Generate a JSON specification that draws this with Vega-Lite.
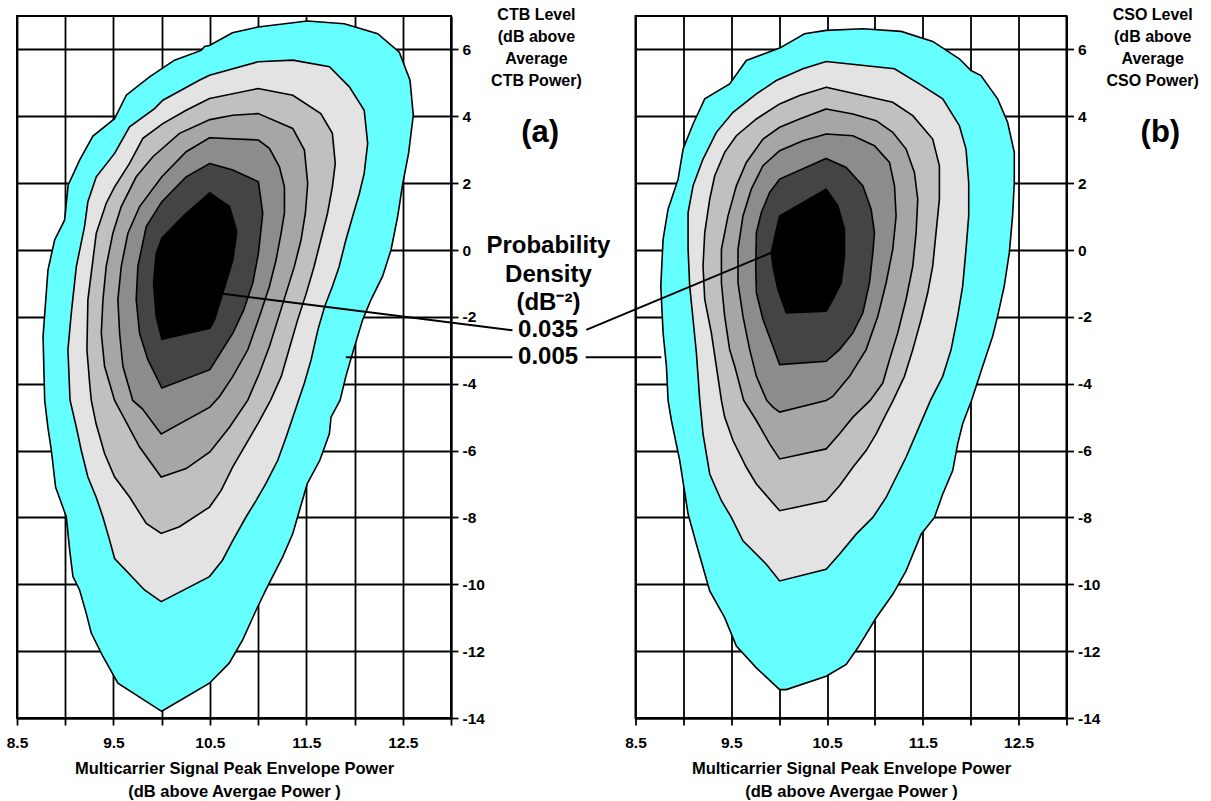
{
 "$schema": "https://vega.github.io/schema/vega-lite/v6.json",
 "padding": {"left": 5, "top": 6, "right": 5, "bottom": 3},
 "background": "white",
 "datasets": {
  "ctb": [
   {"density":0.005,"k":1,"pep":10.0,"lvl":-13.8},{"density":0.005,"k":2,"pep":9.546,"lvl":-12.96},{"density":0.005,"k":3,"pep":9.391,"lvl":-12.16},{"density":0.005,"k":4,"pep":9.27,"lvl":-11.46},{"density":0.005,"k":5,"pep":9.218,"lvl":-10.87},{"density":0.005,"k":6,"pep":9.149,"lvl":-10.17},{"density":0.005,"k":7,"pep":9.08,"lvl":-9.77},{"density":0.005,"k":8,"pep":9.046,"lvl":-8.98},{"density":0.005,"k":9,"pep":9.011,"lvl":-7.98},{"density":0.005,"k":10,"pep":8.9,"lvl":-7.09},{"density":0.005,"k":11,"pep":8.856,"lvl":-5.99},{"density":0.005,"k":12,"pep":8.82,"lvl":-5.3},{"density":0.005,"k":13,"pep":8.787,"lvl":-4.5},{"density":0.005,"k":14,"pep":8.77,"lvl":-2.59},{"density":0.005,"k":15,"pep":8.821,"lvl":-0.6},{"density":0.005,"k":16,"pep":8.89,"lvl":0.3},{"density":0.005,"k":17,"pep":8.994,"lvl":0.9},{"density":0.005,"k":18,"pep":9.03,"lvl":1.94},{"density":0.005,"k":19,"pep":9.149,"lvl":2.69},{"density":0.005,"k":20,"pep":9.287,"lvl":3.41},{"density":0.005,"k":21,"pep":9.512,"lvl":3.93},{"density":0.005,"k":22,"pep":9.633,"lvl":4.63},{"density":0.005,"k":23,"pep":9.874,"lvl":5.18},{"density":0.005,"k":24,"pep":10.133,"lvl":5.68},{"density":0.005,"k":25,"pep":10.41,"lvl":5.97},{"density":0.005,"k":26,"pep":10.444,"lvl":6.09},{"density":0.005,"k":27,"pep":10.496,"lvl":6.12},{"density":0.005,"k":28,"pep":10.734,"lvl":6.5},{"density":0.005,"k":29,"pep":11.0,"lvl":6.67},{"density":0.005,"k":30,"pep":11.51,"lvl":6.85},{"density":0.005,"k":31,"pep":11.894,"lvl":6.77},{"density":0.005,"k":32,"pep":12.24,"lvl":6.47},{"density":0.005,"k":33,"pep":12.464,"lvl":5.92},{"density":0.005,"k":34,"pep":12.575,"lvl":5.08},{"density":0.005,"k":35,"pep":12.609,"lvl":4.03},{"density":0.005,"k":36,"pep":12.56,"lvl":2.89},{"density":0.005,"k":37,"pep":12.5,"lvl":1.99},{"density":0.005,"k":38,"pep":12.447,"lvl":1.0},{"density":0.005,"k":39,"pep":12.378,"lvl":0.0},{"density":0.005,"k":40,"pep":12.29,"lvl":-0.79},{"density":0.005,"k":41,"pep":12.17,"lvl":-1.49},{"density":0.005,"k":42,"pep":12.084,"lvl":-2.09},{"density":0.005,"k":43,"pep":11.99,"lvl":-2.98},{"density":0.005,"k":44,"pep":11.91,"lvl":-3.78},{"density":0.005,"k":45,"pep":11.85,"lvl":-4.49},{"density":0.005,"k":46,"pep":11.756,"lvl":-5.0},{"density":0.005,"k":47,"pep":11.739,"lvl":-5.5},{"density":0.005,"k":48,"pep":11.64,"lvl":-6.29},{"density":0.005,"k":49,"pep":11.51,"lvl":-6.99},{"density":0.005,"k":50,"pep":11.43,"lvl":-7.78},{"density":0.005,"k":51,"pep":11.36,"lvl":-8.48},{"density":0.005,"k":52,"pep":11.255,"lvl":-9.18},{"density":0.005,"k":53,"pep":11.08,"lvl":-10.17},{"density":0.005,"k":54,"pep":10.98,"lvl":-10.77},{"density":0.005,"k":55,"pep":10.84,"lvl":-11.66},{"density":0.005,"k":56,"pep":10.7,"lvl":-12.36},{"density":0.005,"k":57,"pep":10.496,"lvl":-12.96},

   {"density":0.01,"k":1,"pep":10.39,"lvl":5.08},{"density":0.01,"k":2,"pep":10.496,"lvl":5.23},{"density":0.01,"k":3,"pep":11.0,"lvl":5.63},{"density":0.01,"k":4,"pep":11.36,"lvl":5.68},{"density":0.01,"k":5,"pep":11.74,"lvl":5.48},{"density":0.01,"k":6,"pep":11.946,"lvl":4.88},{"density":0.01,"k":7,"pep":12.1,"lvl":4.18},{"density":0.01,"k":8,"pep":12.136,"lvl":3.19},{"density":0.01,"k":9,"pep":12.1,"lvl":2.29},{"density":0.01,"k":10,"pep":12.05,"lvl":1.69},{"density":0.01,"k":11,"pep":11.98,"lvl":1.0},{"density":0.01,"k":12,"pep":11.91,"lvl":0.3},{"density":0.01,"k":13,"pep":11.84,"lvl":-0.5},{"density":0.01,"k":14,"pep":11.77,"lvl":-1.09},{"density":0.01,"k":15,"pep":11.69,"lvl":-1.69},{"density":0.01,"k":16,"pep":11.62,"lvl":-2.39},{"density":0.01,"k":17,"pep":11.55,"lvl":-3.28},{"density":0.01,"k":18,"pep":11.48,"lvl":-3.98},{"density":0.01,"k":19,"pep":11.42,"lvl":-4.49},{"density":0.01,"k":20,"pep":11.36,"lvl":-5.0},{"density":0.01,"k":21,"pep":11.29,"lvl":-5.6},{"density":0.01,"k":22,"pep":11.204,"lvl":-6.29},{"density":0.01,"k":23,"pep":11.08,"lvl":-6.99},{"density":0.01,"k":24,"pep":10.98,"lvl":-7.49},{"density":0.01,"k":25,"pep":10.876,"lvl":-7.98},{"density":0.01,"k":26,"pep":10.74,"lvl":-8.68},{"density":0.01,"k":27,"pep":10.63,"lvl":-9.28},{"density":0.01,"k":28,"pep":10.496,"lvl":-9.77},{"density":0.01,"k":29,"pep":9.995,"lvl":-10.52},{"density":0.01,"k":30,"pep":9.822,"lvl":-10.17},{"density":0.01,"k":31,"pep":9.512,"lvl":-9.23},{"density":0.01,"k":32,"pep":9.46,"lvl":-8.68},{"density":0.01,"k":33,"pep":9.39,"lvl":-7.98},{"density":0.01,"k":34,"pep":9.32,"lvl":-7.39},{"density":0.01,"k":35,"pep":9.235,"lvl":-6.79},{"density":0.01,"k":36,"pep":9.166,"lvl":-5.99},{"density":0.01,"k":37,"pep":9.115,"lvl":-5.3},{"density":0.01,"k":38,"pep":9.05,"lvl":-4.49},{"density":0.01,"k":39,"pep":9.028,"lvl":-2.985},{"density":0.01,"k":40,"pep":9.063,"lvl":-1.89},{"density":0.01,"k":41,"pep":9.115,"lvl":-0.5},{"density":0.01,"k":42,"pep":9.2,"lvl":0.7},{"density":0.01,"k":43,"pep":9.235,"lvl":1.445},{"density":0.01,"k":44,"pep":9.322,"lvl":2.19},{"density":0.01,"k":45,"pep":9.512,"lvl":2.89},{"density":0.01,"k":46,"pep":9.667,"lvl":3.685},{"density":0.01,"k":47,"pep":9.926,"lvl":4.23},{"density":0.01,"k":48,"pep":10.012,"lvl":4.48},

   {"density":0.015,"k":1,"pep":10.496,"lvl":4.53},{"density":0.015,"k":2,"pep":11.0,"lvl":4.83},{"density":0.015,"k":3,"pep":11.36,"lvl":4.63},{"density":0.015,"k":4,"pep":11.65,"lvl":4.08},{"density":0.015,"k":5,"pep":11.77,"lvl":3.49},{"density":0.015,"k":6,"pep":11.8,"lvl":2.59},{"density":0.015,"k":7,"pep":11.77,"lvl":1.89},{"density":0.015,"k":8,"pep":11.72,"lvl":1.1},{"density":0.015,"k":9,"pep":11.65,"lvl":0.3},{"density":0.015,"k":10,"pep":11.58,"lvl":-0.5},{"density":0.015,"k":11,"pep":11.5,"lvl":-1.29},{"density":0.015,"k":12,"pep":11.41,"lvl":-2.09},{"density":0.015,"k":13,"pep":11.32,"lvl":-2.985},{"density":0.015,"k":14,"pep":11.24,"lvl":-3.78},{"density":0.015,"k":15,"pep":11.13,"lvl":-4.49},{"density":0.015,"k":16,"pep":10.997,"lvl":-5.2},{"density":0.015,"k":17,"pep":10.876,"lvl":-5.8},{"density":0.015,"k":18,"pep":10.737,"lvl":-6.49},{"density":0.015,"k":19,"pep":10.617,"lvl":-7.19},{"density":0.015,"k":20,"pep":10.496,"lvl":-7.69},{"density":0.015,"k":21,"pep":10.185,"lvl":-8.28},{"density":0.015,"k":22,"pep":9.995,"lvl":-8.48},{"density":0.015,"k":23,"pep":9.84,"lvl":-8.18},{"density":0.015,"k":24,"pep":9.667,"lvl":-7.39},{"density":0.015,"k":25,"pep":9.512,"lvl":-6.79},{"density":0.015,"k":26,"pep":9.408,"lvl":-6.09},{"density":0.015,"k":27,"pep":9.32,"lvl":-5.2},{"density":0.015,"k":28,"pep":9.27,"lvl":-4.49},{"density":0.015,"k":29,"pep":9.253,"lvl":-3.98},{"density":0.015,"k":30,"pep":9.225,"lvl":-2.985},{"density":0.015,"k":31,"pep":9.235,"lvl":-1.49},{"density":0.015,"k":32,"pep":9.287,"lvl":-0.3},{"density":0.015,"k":33,"pep":9.322,"lvl":0.5},{"density":0.015,"k":34,"pep":9.425,"lvl":1.4},{"density":0.015,"k":35,"pep":9.512,"lvl":1.89},{"density":0.015,"k":36,"pep":9.667,"lvl":2.59},{"density":0.015,"k":37,"pep":9.805,"lvl":3.34},{"density":0.015,"k":38,"pep":10.012,"lvl":3.78},{"density":0.015,"k":39,"pep":10.254,"lvl":4.18},

   {"density":0.02,"k":1,"pep":11.003,"lvl":4.08},{"density":0.02,"k":2,"pep":11.359,"lvl":3.635},{"density":0.02,"k":3,"pep":11.48,"lvl":2.99},{"density":0.02,"k":4,"pep":11.514,"lvl":1.99},{"density":0.02,"k":5,"pep":11.49,"lvl":1.1},{"density":0.02,"k":6,"pep":11.445,"lvl":0.3},{"density":0.02,"k":7,"pep":11.376,"lvl":-0.49},{"density":0.02,"k":8,"pep":11.29,"lvl":-1.29},{"density":0.02,"k":9,"pep":11.204,"lvl":-2.09},{"density":0.02,"k":10,"pep":11.117,"lvl":-2.885},{"density":0.02,"k":11,"pep":11.014,"lvl":-3.68},{"density":0.02,"k":12,"pep":10.893,"lvl":-4.49},{"density":0.02,"k":13,"pep":10.703,"lvl":-5.3},{"density":0.02,"k":14,"pep":10.5,"lvl":-6.04},{"density":0.02,"k":15,"pep":10.254,"lvl":-6.54},{"density":0.02,"k":16,"pep":9.995,"lvl":-6.79},{"density":0.02,"k":17,"pep":9.771,"lvl":-5.895},{"density":0.02,"k":18,"pep":9.512,"lvl":-4.5},{"density":0.02,"k":19,"pep":9.408,"lvl":-3.48},{"density":0.02,"k":20,"pep":9.374,"lvl":-2.49},{"density":0.02,"k":21,"pep":9.391,"lvl":-1.49},{"density":0.02,"k":22,"pep":9.425,"lvl":-0.49},{"density":0.02,"k":23,"pep":9.494,"lvl":0.5},{"density":0.02,"k":24,"pep":9.581,"lvl":1.3},{"density":0.02,"k":25,"pep":9.736,"lvl":2.19},{"density":0.02,"k":26,"pep":9.909,"lvl":2.79},{"density":0.02,"k":27,"pep":10.185,"lvl":3.49},{"density":0.02,"k":28,"pep":10.5,"lvl":3.9},{"density":0.02,"k":29,"pep":10.738,"lvl":4.03},

   {"density":0.025,"k":1,"pep":10.5,"lvl":3.36},{"density":0.025,"k":2,"pep":11.003,"lvl":3.29},{"density":0.025,"k":3,"pep":11.117,"lvl":3.04},{"density":0.025,"k":4,"pep":11.221,"lvl":2.49},{"density":0.025,"k":5,"pep":11.273,"lvl":1.89},{"density":0.025,"k":6,"pep":11.273,"lvl":1.1},{"density":0.025,"k":7,"pep":11.238,"lvl":0.5},{"density":0.025,"k":8,"pep":11.186,"lvl":-0.3},{"density":0.025,"k":9,"pep":11.117,"lvl":-1.09},{"density":0.025,"k":10,"pep":11.014,"lvl":-1.99},{"density":0.025,"k":11,"pep":10.893,"lvl":-2.985},{"density":0.025,"k":12,"pep":10.738,"lvl":-3.78},{"density":0.025,"k":13,"pep":10.6,"lvl":-4.38},{"density":0.025,"k":14,"pep":10.5,"lvl":-4.7},{"density":0.025,"k":15,"pep":9.995,"lvl":-5.5},{"density":0.025,"k":16,"pep":9.8,"lvl":-4.75},{"density":0.025,"k":17,"pep":9.7,"lvl":-4.5},{"density":0.025,"k":18,"pep":9.598,"lvl":-3.48},{"density":0.025,"k":19,"pep":9.564,"lvl":-2.49},{"density":0.025,"k":20,"pep":9.546,"lvl":-1.49},{"density":0.025,"k":21,"pep":9.581,"lvl":-0.49},{"density":0.025,"k":22,"pep":9.65,"lvl":0.5},{"density":0.025,"k":23,"pep":9.771,"lvl":1.3},{"density":0.025,"k":24,"pep":10.002,"lvl":2.19},{"density":0.025,"k":25,"pep":10.254,"lvl":2.94},

   {"density":0.03,"k":1,"pep":10.5,"lvl":2.59},{"density":0.03,"k":2,"pep":10.738,"lvl":2.39},{"density":0.03,"k":3,"pep":11.003,"lvl":2.04},{"density":0.03,"k":4,"pep":11.048,"lvl":1.1},{"density":0.03,"k":5,"pep":11.003,"lvl":-0.1},{"density":0.03,"k":6,"pep":10.945,"lvl":-0.99},{"density":0.03,"k":7,"pep":10.85,"lvl":-1.8},{"density":0.03,"k":8,"pep":10.738,"lvl":-2.49},{"density":0.03,"k":9,"pep":10.5,"lvl":-3.58},{"density":0.03,"k":10,"pep":10.002,"lvl":-4.13},{"density":0.03,"k":11,"pep":9.857,"lvl":-3.28},{"density":0.03,"k":12,"pep":9.771,"lvl":-2.49},{"density":0.03,"k":13,"pep":9.736,"lvl":-1.49},{"density":0.03,"k":14,"pep":9.753,"lvl":-0.49},{"density":0.03,"k":15,"pep":9.84,"lvl":0.7},{"density":0.03,"k":16,"pep":10.002,"lvl":1.445},{"density":0.03,"k":17,"pep":10.254,"lvl":2.19},

   {"density":0.035,"k":1,"pep":10.5,"lvl":1.71},{"density":0.035,"k":2,"pep":10.703,"lvl":1.3},{"density":0.035,"k":3,"pep":10.779,"lvl":0.55},{"density":0.035,"k":4,"pep":10.738,"lvl":-0.3},{"density":0.035,"k":5,"pep":10.634,"lvl":-1.29},{"density":0.035,"k":6,"pep":10.548,"lvl":-2.09},{"density":0.035,"k":7,"pep":10.5,"lvl":-2.34},{"density":0.035,"k":8,"pep":10.002,"lvl":-2.67},{"density":0.035,"k":9,"pep":9.943,"lvl":-1.99},{"density":0.035,"k":10,"pep":9.916,"lvl":-0.99},{"density":0.035,"k":11,"pep":9.943,"lvl":-0.1},{"density":0.035,"k":12,"pep":10.002,"lvl":0.35},{"density":0.035,"k":13,"pep":10.237,"lvl":1.05}
  ],
  "cso": [
   {"density":0.005,"k":1,"pep":10.005,"lvl":6.04},{"density":0.005,"k":2,"pep":10.265,"lvl":6.47},{"density":0.005,"k":3,"pep":10.491,"lvl":6.57},{"density":0.005,"k":4,"pep":10.874,"lvl":6.62},{"density":0.005,"k":5,"pep":11.273,"lvl":6.54},{"density":0.005,"k":6,"pep":11.603,"lvl":6.24},{"density":0.005,"k":7,"pep":11.881,"lvl":5.72},{"density":0.005,"k":8,"pep":12.003,"lvl":5.37},{"density":0.005,"k":9,"pep":12.107,"lvl":5.22},{"density":0.005,"k":10,"pep":12.281,"lvl":4.52},{"density":0.005,"k":11,"pep":12.385,"lvl":3.82},{"density":0.005,"k":12,"pep":12.455,"lvl":2.92},{"density":0.005,"k":13,"pep":12.455,"lvl":2.02},{"density":0.005,"k":14,"pep":12.437,"lvl":1.02},{"density":0.005,"k":15,"pep":12.403,"lvl":-0.08},{"density":0.005,"k":16,"pep":12.35,"lvl":-1.08},{"density":0.005,"k":17,"pep":12.281,"lvl":-1.98},{"density":0.005,"k":18,"pep":12.229,"lvl":-2.58},{"density":0.005,"k":19,"pep":12.125,"lvl":-3.48},{"density":0.005,"k":20,"pep":12.01,"lvl":-4.49},{"density":0.005,"k":21,"pep":11.916,"lvl":-5.2},{"density":0.005,"k":22,"pep":11.864,"lvl":-5.8},{"density":0.005,"k":23,"pep":11.812,"lvl":-6.6},{"density":0.005,"k":24,"pep":11.708,"lvl":-7.3},{"density":0.005,"k":25,"pep":11.621,"lvl":-8.0},{"density":0.005,"k":26,"pep":11.482,"lvl":-8.5},{"density":0.005,"k":27,"pep":11.325,"lvl":-9.6},{"density":0.005,"k":28,"pep":11.186,"lvl":-10.3},{"density":0.005,"k":29,"pep":11.013,"lvl":-11.0},{"density":0.005,"k":30,"pep":10.821,"lvl":-11.9},{"density":0.005,"k":31,"pep":10.7,"lvl":-12.4},{"density":0.005,"k":32,"pep":10.491,"lvl":-12.75},{"density":0.005,"k":33,"pep":10.074,"lvl":-13.15},{"density":0.005,"k":34,"pep":10.005,"lvl":-13.15},{"density":0.005,"k":35,"pep":9.762,"lvl":-12.5},{"density":0.005,"k":36,"pep":9.553,"lvl":-11.85},{"density":0.005,"k":37,"pep":9.431,"lvl":-11.0},{"density":0.005,"k":38,"pep":9.275,"lvl":-10.2},{"density":0.005,"k":39,"pep":9.136,"lvl":-8.8},{"density":0.005,"k":40,"pep":9.049,"lvl":-7.9},{"density":0.005,"k":41,"pep":8.962,"lvl":-6.3},{"density":0.005,"k":42,"pep":8.875,"lvl":-5.1},{"density":0.005,"k":43,"pep":8.84,"lvl":-4.5},{"density":0.005,"k":44,"pep":8.823,"lvl":-3.48},{"density":0.005,"k":45,"pep":8.788,"lvl":-2.48},{"density":0.005,"k":46,"pep":8.764,"lvl":-1.08},{"density":0.005,"k":47,"pep":8.788,"lvl":0.32},{"density":0.005,"k":48,"pep":8.84,"lvl":1.22},{"density":0.005,"k":49,"pep":8.945,"lvl":2.12},{"density":0.005,"k":50,"pep":8.997,"lvl":3.02},{"density":0.005,"k":51,"pep":9.101,"lvl":3.77},{"density":0.005,"k":52,"pep":9.223,"lvl":4.52},{"density":0.005,"k":53,"pep":9.483,"lvl":4.97},{"density":0.005,"k":54,"pep":9.657,"lvl":5.67},

   {"density":0.01,"k":1,"pep":10.491,"lvl":5.64},{"density":0.01,"k":2,"pep":11.204,"lvl":5.42},{"density":0.01,"k":3,"pep":11.464,"lvl":4.97},{"density":0.01,"k":4,"pep":11.708,"lvl":4.52},{"density":0.01,"k":5,"pep":11.881,"lvl":3.72},{"density":0.01,"k":6,"pep":11.951,"lvl":3.02},{"density":0.01,"k":7,"pep":11.979,"lvl":2.02},{"density":0.01,"k":8,"pep":11.979,"lvl":1.02},{"density":0.01,"k":9,"pep":11.951,"lvl":0.02},{"density":0.01,"k":10,"pep":11.916,"lvl":-1.08},{"density":0.01,"k":11,"pep":11.864,"lvl":-1.98},{"density":0.01,"k":12,"pep":11.795,"lvl":-2.98},{"density":0.01,"k":13,"pep":11.708,"lvl":-3.78},{"density":0.01,"k":14,"pep":11.58,"lvl":-4.5},{"density":0.01,"k":15,"pep":11.43,"lvl":-5.5},{"density":0.01,"k":16,"pep":11.325,"lvl":-6.2},{"density":0.01,"k":17,"pep":11.186,"lvl":-7.0},{"density":0.01,"k":18,"pep":11.117,"lvl":-7.4},{"density":0.01,"k":19,"pep":10.978,"lvl":-8.0},{"density":0.01,"k":20,"pep":10.804,"lvl":-8.5},{"density":0.01,"k":21,"pep":10.63,"lvl":-9.1},{"density":0.01,"k":22,"pep":10.491,"lvl":-9.55},{"density":0.01,"k":23,"pep":10.005,"lvl":-9.9},{"density":0.01,"k":24,"pep":9.866,"lvl":-9.4},{"density":0.01,"k":25,"pep":9.622,"lvl":-8.7},{"density":0.01,"k":26,"pep":9.501,"lvl":-8.0},{"density":0.01,"k":27,"pep":9.397,"lvl":-7.5},{"density":0.01,"k":28,"pep":9.275,"lvl":-6.7},{"density":0.01,"k":29,"pep":9.205,"lvl":-5.5},{"density":0.01,"k":30,"pep":9.171,"lvl":-4.5},{"density":0.01,"k":31,"pep":9.136,"lvl":-3.08},{"density":0.01,"k":32,"pep":9.101,"lvl":-2.08},{"density":0.01,"k":33,"pep":9.066,"lvl":-1.08},{"density":0.01,"k":34,"pep":9.049,"lvl":0.02},{"density":0.01,"k":35,"pep":9.049,"lvl":1.12},{"density":0.01,"k":36,"pep":9.101,"lvl":1.92},{"density":0.01,"k":37,"pep":9.205,"lvl":2.72},{"density":0.01,"k":38,"pep":9.344,"lvl":3.52},{"density":0.01,"k":39,"pep":9.518,"lvl":4.12},{"density":0.01,"k":40,"pep":9.762,"lvl":4.67},{"density":0.01,"k":41,"pep":9.97,"lvl":5.07},{"density":0.01,"k":42,"pep":10.248,"lvl":5.42},

   {"density":0.015,"k":1,"pep":10.491,"lvl":4.87},{"density":0.015,"k":2,"pep":11.186,"lvl":4.42},{"density":0.015,"k":3,"pep":11.395,"lvl":4.02},{"density":0.015,"k":4,"pep":11.603,"lvl":3.32},{"density":0.015,"k":5,"pep":11.673,"lvl":2.52},{"density":0.015,"k":6,"pep":11.673,"lvl":1.52},{"density":0.015,"k":7,"pep":11.638,"lvl":0.52},{"density":0.015,"k":8,"pep":11.603,"lvl":-0.48},{"density":0.015,"k":9,"pep":11.551,"lvl":-1.28},{"density":0.015,"k":10,"pep":11.482,"lvl":-2.08},{"density":0.015,"k":11,"pep":11.395,"lvl":-2.98},{"density":0.015,"k":12,"pep":11.308,"lvl":-3.78},{"density":0.015,"k":13,"pep":11.19,"lvl":-4.5},{"density":0.015,"k":14,"pep":11.1,"lvl":-5.0},{"density":0.015,"k":15,"pep":11.013,"lvl":-5.5},{"density":0.015,"k":16,"pep":10.908,"lvl":-6.0},{"density":0.015,"k":17,"pep":10.77,"lvl":-6.5},{"density":0.015,"k":18,"pep":10.63,"lvl":-7.05},{"density":0.015,"k":19,"pep":10.491,"lvl":-7.5},{"density":0.015,"k":20,"pep":10.005,"lvl":-7.8},{"density":0.015,"k":21,"pep":9.762,"lvl":-7.0},{"density":0.015,"k":22,"pep":9.657,"lvl":-6.5},{"density":0.015,"k":23,"pep":9.518,"lvl":-5.7},{"density":0.015,"k":24,"pep":9.431,"lvl":-5.0},{"density":0.015,"k":25,"pep":9.397,"lvl":-4.5},{"density":0.015,"k":26,"pep":9.344,"lvl":-3.48},{"density":0.015,"k":27,"pep":9.292,"lvl":-2.48},{"density":0.015,"k":28,"pep":9.223,"lvl":-1.48},{"density":0.015,"k":29,"pep":9.205,"lvl":-0.48},{"density":0.015,"k":30,"pep":9.223,"lvl":0.52},{"density":0.015,"k":31,"pep":9.275,"lvl":1.52},{"density":0.015,"k":32,"pep":9.327,"lvl":2.22},{"density":0.015,"k":33,"pep":9.431,"lvl":2.92},{"density":0.015,"k":34,"pep":9.553,"lvl":3.42},{"density":0.015,"k":35,"pep":9.762,"lvl":3.92},{"density":0.015,"k":36,"pep":10.005,"lvl":4.37},{"density":0.015,"k":37,"pep":10.213,"lvl":4.62},

   {"density":0.02,"k":1,"pep":10.491,"lvl":4.22},{"density":0.02,"k":2,"pep":10.77,"lvl":4.07},{"density":0.02,"k":3,"pep":11.013,"lvl":3.87},{"density":0.02,"k":4,"pep":11.186,"lvl":3.52},{"density":0.02,"k":5,"pep":11.325,"lvl":3.02},{"density":0.02,"k":6,"pep":11.412,"lvl":2.32},{"density":0.02,"k":7,"pep":11.447,"lvl":1.52},{"density":0.02,"k":8,"pep":11.43,"lvl":0.52},{"density":0.02,"k":9,"pep":11.395,"lvl":-0.48},{"density":0.02,"k":10,"pep":11.325,"lvl":-1.48},{"density":0.02,"k":11,"pep":11.238,"lvl":-2.48},{"density":0.02,"k":12,"pep":11.152,"lvl":-3.28},{"density":0.02,"k":13,"pep":11.082,"lvl":-3.98},{"density":0.02,"k":14,"pep":10.95,"lvl":-4.5},{"density":0.02,"k":15,"pep":10.77,"lvl":-5.0},{"density":0.02,"k":16,"pep":10.63,"lvl":-5.5},{"density":0.02,"k":17,"pep":10.491,"lvl":-5.95},{"density":0.02,"k":18,"pep":10.005,"lvl":-6.25},{"density":0.02,"k":19,"pep":9.901,"lvl":-5.8},{"density":0.02,"k":20,"pep":9.762,"lvl":-5.1},{"density":0.02,"k":21,"pep":9.63,"lvl":-4.5},{"density":0.02,"k":22,"pep":9.536,"lvl":-3.48},{"density":0.02,"k":23,"pep":9.483,"lvl":-2.98},{"density":0.02,"k":24,"pep":9.431,"lvl":-1.98},{"density":0.02,"k":25,"pep":9.397,"lvl":-0.98},{"density":0.02,"k":26,"pep":9.397,"lvl":0.02},{"density":0.02,"k":27,"pep":9.466,"lvl":1.02},{"density":0.02,"k":28,"pep":9.553,"lvl":1.92},{"density":0.02,"k":29,"pep":9.657,"lvl":2.62},{"density":0.02,"k":30,"pep":9.831,"lvl":3.32},{"density":0.02,"k":31,"pep":10.005,"lvl":3.67},{"density":0.02,"k":32,"pep":10.213,"lvl":3.92},

   {"density":0.025,"k":1,"pep":10.491,"lvl":3.47},{"density":0.025,"k":2,"pep":10.77,"lvl":3.42},{"density":0.025,"k":3,"pep":10.995,"lvl":3.12},{"density":0.025,"k":4,"pep":11.152,"lvl":2.62},{"density":0.025,"k":5,"pep":11.204,"lvl":1.92},{"density":0.025,"k":6,"pep":11.221,"lvl":1.02},{"density":0.025,"k":7,"pep":11.186,"lvl":0.02},{"density":0.025,"k":8,"pep":11.117,"lvl":-0.98},{"density":0.025,"k":9,"pep":11.03,"lvl":-1.98},{"density":0.025,"k":10,"pep":10.908,"lvl":-2.98},{"density":0.025,"k":11,"pep":10.735,"lvl":-3.78},{"density":0.025,"k":12,"pep":10.56,"lvl":-4.38},{"density":0.025,"k":13,"pep":10.49,"lvl":-4.5},{"density":0.025,"k":14,"pep":10.005,"lvl":-4.85},{"density":0.025,"k":15,"pep":9.935,"lvl":-4.7},{"density":0.025,"k":16,"pep":9.87,"lvl":-4.5},{"density":0.025,"k":17,"pep":9.762,"lvl":-3.78},{"density":0.025,"k":18,"pep":9.692,"lvl":-2.98},{"density":0.025,"k":19,"pep":9.622,"lvl":-1.98},{"density":0.025,"k":20,"pep":9.57,"lvl":-0.98},{"density":0.025,"k":21,"pep":9.57,"lvl":0.02},{"density":0.025,"k":22,"pep":9.622,"lvl":1.02},{"density":0.025,"k":23,"pep":9.709,"lvl":1.82},{"density":0.025,"k":24,"pep":9.831,"lvl":2.52},{"density":0.025,"k":25,"pep":10.005,"lvl":2.97},{"density":0.025,"k":26,"pep":10.248,"lvl":3.27},

   {"density":0.03,"k":1,"pep":10.491,"lvl":2.74},{"density":0.03,"k":2,"pep":10.7,"lvl":2.47},{"density":0.03,"k":3,"pep":10.874,"lvl":1.92},{"density":0.03,"k":4,"pep":10.96,"lvl":1.22},{"density":0.03,"k":5,"pep":10.995,"lvl":0.52},{"density":0.03,"k":6,"pep":10.978,"lvl":-0.08},{"density":0.03,"k":7,"pep":10.943,"lvl":-0.98},{"density":0.03,"k":8,"pep":10.874,"lvl":-1.88},{"density":0.03,"k":9,"pep":10.77,"lvl":-2.48},{"density":0.03,"k":10,"pep":10.63,"lvl":-2.98},{"density":0.03,"k":11,"pep":10.491,"lvl":-3.33},{"density":0.03,"k":12,"pep":10.005,"lvl":-3.43},{"density":0.03,"k":13,"pep":9.935,"lvl":-2.88},{"density":0.03,"k":14,"pep":9.831,"lvl":-2.08},{"density":0.03,"k":15,"pep":9.762,"lvl":-1.28},{"density":0.03,"k":16,"pep":9.755,"lvl":-0.48},{"density":0.03,"k":17,"pep":9.762,"lvl":0.52},{"density":0.03,"k":18,"pep":9.814,"lvl":1.12},{"density":0.03,"k":19,"pep":9.901,"lvl":1.72},{"density":0.03,"k":20,"pep":10.005,"lvl":2.12},

   {"density":0.035,"k":1,"pep":10.491,"lvl":1.82},{"density":0.035,"k":2,"pep":10.613,"lvl":1.32},{"density":0.035,"k":3,"pep":10.682,"lvl":0.62},{"density":0.035,"k":4,"pep":10.682,"lvl":-0.18},{"density":0.035,"k":5,"pep":10.648,"lvl":-0.98},{"density":0.035,"k":6,"pep":10.561,"lvl":-1.48},{"density":0.035,"k":7,"pep":10.491,"lvl":-1.83},{"density":0.035,"k":8,"pep":10.074,"lvl":-1.88},{"density":0.035,"k":9,"pep":9.987,"lvl":-1.18},{"density":0.035,"k":10,"pep":9.935,"lvl":-0.48},{"density":0.035,"k":11,"pep":9.918,"lvl":-0.08},{"density":0.035,"k":12,"pep":9.963,"lvl":0.52},{"density":0.035,"k":13,"pep":10.005,"lvl":1.02}
  ]
 },
 "spacing": 184.5,
 "bounds": "flush",
 "hconcat": [
  {
   "width": 434, "height": 702,
   "layer": [
    {
     "data": {"name": "ctb"},
     "mark": {"type": "line", "interpolate": "linear-closed", "stroke": "black", "strokeWidth": 1.6},
     "encoding": {
      "x": {"field": "pep", "type": "quantitative", "scale": {"domain": [8.5, 13], "nice": false, "zero": false},
            "axis": {"values": [8.5, 9, 9.5, 10, 10.5, 11, 11.5, 12, 12.5, 13], "labelExpr": "datum.value % 1 == 0.5 ? format(datum.value, '.1f') : ''", "labelPadding": 10, "title": ["Multicarrier Signal Peak Envelope Power", "(dB above Avergae Power )"], "titleFontSize": 16.5, "titleLineHeight": 23, "titlePadding": 10}},
      "y": {"field": "lvl", "type": "quantitative", "scale": {"domain": [-14, 7], "nice": false, "zero": false},
            "axis": {"orient": "right", "values": [-14,-13,-12,-11,-10,-9,-8,-7,-6,-5,-4,-3,-2,-1,0,1,2,3,4,5,6,7], "labelExpr": "datum.value % 2 == 0 ? '' + datum.value : ''", "labelPadding": 4, "labelAlign": "left", "title": null}},
      "fill": {"field": "density", "type": "ordinal", "scale": {"domain": [0.005, 0.01, 0.015, 0.02, 0.025, 0.03, 0.035], "range": ["#66FFFF", "#E3E3E3", "#C0C0C0", "#A6A6A6", "#8C8C8C", "#444444", "#000000"]}, "legend": null},
      "order": {"field": "k", "type": "quantitative"}
     }
    },
    {"data": {"values": [{}]}, "mark": {"type": "rule", "strokeWidth": 2, "color": "black"},
     "encoding": {"x": {"datum": 10.634}, "y": {"datum": -1.31}, "x2": {"datum": 13.637}, "y2": {"datum": -2.4}}},
    {"data": {"values": [{}]}, "mark": {"type": "rule", "strokeWidth": 2, "color": "black"},
     "encoding": {"x": {"datum": 11.91}, "y": {"datum": -3.21}, "x2": {"datum": 13.637}, "y2": {"datum": -3.21}}},
    {"data": {"values": [{}]}, "mark": {"type": "text", "text": ["Probability", "Density", "(dB⁻²)"], "font": "Liberation Sans", "fontWeight": "bold", "fontSize": 24, "lineHeight": 28.5, "align": "center", "baseline": "alphabetic", "color": "black"},
     "encoding": {"x": {"datum": 14.01}, "y": {"datum": -0.103}}},
    {"data": {"values": [{}]}, "mark": {"type": "text", "text": "0.035", "font": "Liberation Sans", "fontWeight": "bold", "fontSize": 24, "align": "center", "baseline": "alphabetic", "color": "black"},
     "encoding": {"x": {"datum": 14.007}, "y": {"datum": -2.596}}},
    {"data": {"values": [{}]}, "mark": {"type": "text", "text": "0.005", "font": "Liberation Sans", "fontWeight": "bold", "fontSize": 24, "align": "center", "baseline": "alphabetic", "color": "black"},
     "encoding": {"x": {"datum": 14.007}, "y": {"datum": -3.413}}},
    {"data": {"values": [{}]}, "mark": {"type": "text", "text": ["CTB Level", "(dB above", "Average", "CTB Power)"], "font": "Liberation Sans", "fontWeight": "bold", "fontSize": 16, "lineHeight": 22, "align": "center", "baseline": "alphabetic", "color": "black"},
     "encoding": {"x": {"datum": 13.886}, "y": {"datum": 6.87}}},
    {"data": {"values": [{}]}, "mark": {"type": "text", "text": "(a)", "font": "Liberation Sans", "fontWeight": "bold", "fontSize": 31, "align": "center", "baseline": "middle", "color": "black"},
     "encoding": {"x": {"datum": 13.924}, "y": {"datum": 3.49}}}
   ]
  },
  {
   "width": 431, "height": 702,
   "layer": [
    {
     "data": {"name": "cso"},
     "mark": {"type": "line", "interpolate": "linear-closed", "stroke": "black", "strokeWidth": 1.6},
     "encoding": {
      "x": {"field": "pep", "type": "quantitative", "scale": {"domain": [8.5, 13], "nice": false, "zero": false},
            "axis": {"values": [8.5, 9, 9.5, 10, 10.5, 11, 11.5, 12, 12.5, 13], "labelExpr": "datum.value % 1 == 0.5 ? format(datum.value, '.1f') : ''", "labelPadding": 10, "title": ["Multicarrier Signal Peak Envelope Power", "(dB above Avergae Power )"], "titleFontSize": 16.5, "titleLineHeight": 23, "titlePadding": 10}},
      "y": {"field": "lvl", "type": "quantitative", "scale": {"domain": [-14, 7], "nice": false, "zero": false},
            "axis": {"orient": "right", "values": [-14,-13,-12,-11,-10,-9,-8,-7,-6,-5,-4,-3,-2,-1,0,1,2,3,4,5,6,7], "labelExpr": "datum.value % 2 == 0 ? '' + datum.value : ''", "labelPadding": 4, "labelAlign": "left", "title": null}},
      "fill": {"field": "density", "type": "ordinal", "scale": {"domain": [0.005, 0.01, 0.015, 0.02, 0.025, 0.03, 0.035], "range": ["#66FFFF", "#E3E3E3", "#C0C0C0", "#A6A6A6", "#8C8C8C", "#444444", "#000000"]}, "legend": null},
      "order": {"field": "k", "type": "quantitative"}
     }
    },
    {"data": {"values": [{}]}, "mark": {"type": "rule", "strokeWidth": 2, "color": "black"},
     "encoding": {"x": {"datum": 7.986}, "y": {"datum": -2.39}, "x2": {"datum": 9.918}, "y2": {"datum": -0.08}}},
    {"data": {"values": [{}]}, "mark": {"type": "rule", "strokeWidth": 2, "color": "black"},
     "encoding": {"x": {"datum": 7.98}, "y": {"datum": -3.21}, "x2": {"datum": 8.77}, "y2": {"datum": -3.21}}},
    {"data": {"values": [{}]}, "mark": {"type": "text", "text": ["CSO Level", "(dB above", "Average", "CSO Power)"], "font": "Liberation Sans", "fontWeight": "bold", "fontSize": 16, "lineHeight": 22, "align": "center", "baseline": "alphabetic", "color": "black"},
     "encoding": {"x": {"datum": 13.9}, "y": {"datum": 6.87}}},
    {"data": {"values": [{}]}, "mark": {"type": "text", "text": "(b)", "font": "Liberation Sans", "fontWeight": "bold", "fontSize": 31, "align": "center", "baseline": "middle", "color": "black"},
     "encoding": {"x": {"datum": 13.98}, "y": {"datum": 3.49}}}
   ]
  }
 ],
 "config": {
  "view": {"stroke": "black", "strokeWidth": 2},
  "axis": {"grid": true, "gridColor": "black", "gridOpacity": 1, "gridWidth": 1.8, "domainColor": "black", "domainWidth": 2, "tickColor": "black", "tickWidth": 1.8, "tickSize": 7, "labelColor": "black", "labelFont": "Liberation Sans", "labelFontSize": 15.5, "labelFontWeight": "bold", "labelOverlap": false, "labelFlush": false, "labelBound": false, "zindex": 1, "titleColor": "black", "titleFont": "Liberation Sans", "titleFontWeight": "bold"}
 }
}
